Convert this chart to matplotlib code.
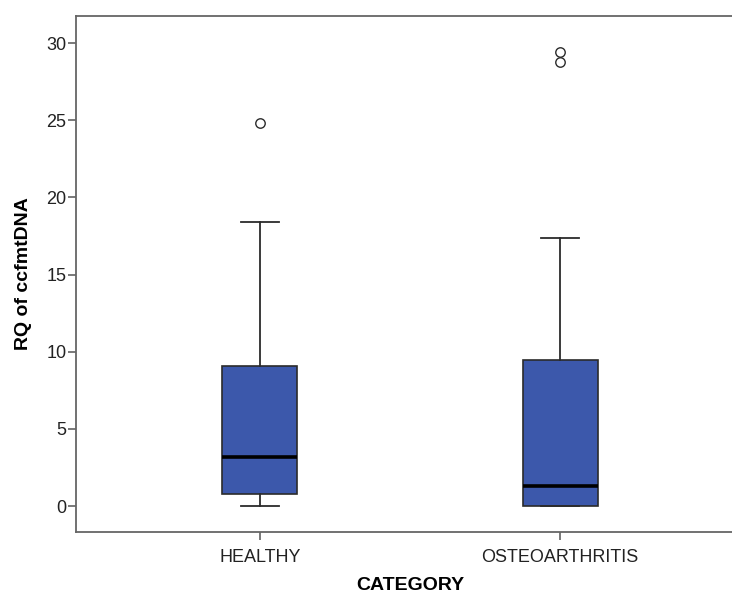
import matplotlib
matplotlib.use("Agg")
import matplotlib.pyplot as plt

plt.rcParams['font.family'] = ['Liberation Sans', 'DejaVu Sans']

# Data
categories = ["HEALTHY", "OSTEOARTHRITIS"]
whisker_low = [0.0, 0.0]
q1 = [0.76, 0.0]
median = [3.20, 1.30]
q3 = [9.09, 9.46]
whisker_high = [18.4, 17.4]
outliers = [[24.8], [29.4, 28.8]]

yticks = [0, 5, 10, 15, 20, 25, 30]

stats = []
for i in range(len(categories)):
    stats.append({
        "whislo": whisker_low[i],
        "q1": q1[i],
        "med": median[i],
        "q3": q3[i],
        "whishi": whisker_high[i],
        "fliers": outliers[i],
        "label": categories[i],
    })

fig = plt.figure(figsize=(7.32, 5.96), dpi=100)
ax = fig.add_axes([76 / 732, 64 / 596, 668 / 732, 516 / 596])

edge = '#2b2b2b'
ax.bxp(stats, positions=[1, 2], widths=0.25, patch_artist=True,
       boxprops=dict(facecolor='#3c58ab', edgecolor=edge, linewidth=1.2),
       medianprops=dict(color='black', linewidth=2.6),
       whiskerprops=dict(color=edge, linewidth=1.3),
       capprops=dict(color=edge, linewidth=1.3),
       capwidths=0.125,
       flierprops=dict(marker='o', markerfacecolor='none', markeredgecolor=edge,
                       markersize=6.8, markeredgewidth=1.0))

ax.set_xlim(0.3867, 2.6133)
ax.set_ylim(-1.685, 31.76)
ax.set_yticks(yticks)
ax.set_xticks([1, 2])
ax.set_xticklabels(categories)

for s in ax.spines.values():
    s.set_color('#666666')
    s.set_linewidth(1.3)

ax.tick_params(axis='both', direction='out', length=6, width=1.1, color='#555555',
               labelsize=13, labelcolor='#222222')
ax.tick_params(axis='y', pad=1)
ax.tick_params(axis='x', pad=6)

ax.set_ylabel('RQ of ccfmtDNA', fontsize=14, fontweight='bold')
ax.set_xlabel('CATEGORY', fontsize=14, fontweight='bold')
ax.yaxis.set_label_coords(-0.066, 0.5)
ax.xaxis.set_label_coords(0.5, -0.088)

fig.savefig('out.png', dpi=100)
